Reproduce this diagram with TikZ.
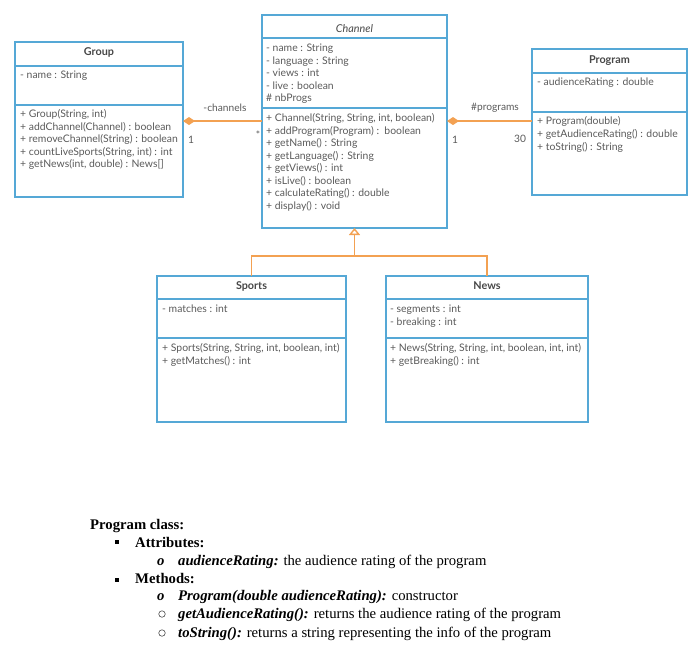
\documentclass[tikz,border=0pt]{standalone}
\usepackage{fontspec}
\setmainfont{Lato}
\newfontfamily\serifdoc{Liberation Serif}
\usetikzlibrary{arrows.meta}
\definecolor{umlblue}{HTML}{55A8D6}
\definecolor{umlorange}{HTML}{F3A152}
\definecolor{umltext}{HTML}{5A5A5A}
\definecolor{umltitle}{HTML}{474747}
\begin{document}
\begin{tikzpicture}[x=1pt,y=-1pt,
 cls/.style={draw=umlblue, line width=1.3pt, inner sep=0pt, outer sep=0pt, anchor=north west},
 sep/.style={draw=umlblue, line width=1.2pt},
 mem/.style={anchor=base west, inner sep=0pt, font=\fontsize{10.4}{12}\selectfont, text=umltext},
 ttl/.style={anchor=base, inner sep=0pt, font=\fontsize{10.8}{12}\selectfont\bfseries, text=umltitle},
 lbl/.style={inner sep=0pt, font=\fontsize{10.2}{12}\selectfont, text=umltext},
 assoc/.style={draw=umlorange, line width=1.4pt, {Diamond[width=8pt,length=12pt,fill=umlorange]}-},
 gen/.style={draw=umlorange, line width=1.4pt},
 doc/.style={anchor=base west, inner sep=0pt, font=\serifdoc\fontsize{14.7}{17}\selectfont},
 sqb/.style={fill=black, inner sep=0pt, minimum size=4.5pt},
 circb/.style={circle, draw=black!70, line width=0.6pt, inner sep=0pt, minimum size=6.5pt}]
\useasboundingbox (0,0) rectangle (700,657);

% ---------- Group ----------
\node[cls, minimum width=168pt, minimum height=155pt] (group) at (15,42) {};
\draw[sep] (group.west |- 0,66) -- (group.east |- 0,66);
\draw[sep] (group.west |- 0,105) -- (group.east |- 0,105);
\node[ttl] (gt) at (99,55.5) {Group};
\node[mem] (ga1) at (20,78.5) {- name : String};
\foreach \t [count=\i] in {{+ Group(String, int)},{+ addChannel(Channel) : boolean},{+ removeChannel(String) : boolean},{+ countLiveSports(String, int) : int},{+ getNews(int, double) : News[]}}
  \node[mem] (gm\i) at (20,{117.5+12.5*(\i-1)}) {\t};

% ---------- Channel ----------
\node[cls, minimum width=185pt, minimum height=213pt] (channel) at (262,15) {};
\draw[sep] (channel.west |- 0,38) -- (channel.east |- 0,38);
\draw[sep] (channel.west |- 0,108) -- (channel.east |- 0,108);
\node[ttl, font=\fontsize{10.8}{12}\selectfont\itshape] (ct) at (354.5,32.5) {Channel};
\foreach \t [count=\i] in {{- name : String},{- language : String},{- views : int},{- live : boolean},{\# nbProgs}}
  \node[mem] (ca\i) at (266,{51.5+12.6*(\i-1)}) {\t};
\foreach \t [count=\i] in {{+ Channel(String, String, int, boolean)},{+ addProgram(Program) :\ \ boolean},{+ getName() : String},{+ getLanguage() : String},{+ getViews() : int},{+ isLive() : boolean},{+ calculateRating() : double},{+ display() : void}}
  \node[mem] (cm\i) at (266,{121.5+12.57*(\i-1)}) {\t};

% ---------- Program ----------
\node[cls, minimum width=155pt, minimum height=146pt] (program) at (532,49) {};
\draw[sep] (program.west |- 0,73) -- (program.east |- 0,73);
\draw[sep] (program.west |- 0,112) -- (program.east |- 0,112);
\node[ttl] (pt) at (609.5,63.5) {Program};
\node[mem] (pa1) at (537,85.5) {- audienceRating : double};
\foreach \t [count=\i] in {{+ Program(double)},{+ getAudienceRating() : double},{+ toString() : String}}
  \node[mem] (pm\i) at (537,{124.5+13*(\i-1)}) {\t};

% ---------- Sports ----------
\node[cls, minimum width=189pt, minimum height=146pt] (sports) at (157,276) {};
\draw[sep] (sports.west |- 0,299) -- (sports.east |- 0,299);
\draw[sep] (sports.west |- 0,338) -- (sports.east |- 0,338);
\node[ttl] (st) at (251.5,289.5) {Sports};
\node[mem] (sa1) at (162,312.5) {- matches : int};
\foreach \t [count=\i] in {{+ Sports(String, String, int, boolean, int)},{+ getMatches() : int}}
  \node[mem] (sm\i) at (162,{351.5+13*(\i-1)}) {\t};

% ---------- News ----------
\node[cls, minimum width=202pt, minimum height=146pt] (news) at (386,276) {};
\draw[sep] (news.west |- 0,299) -- (news.east |- 0,299);
\draw[sep] (news.west |- 0,338) -- (news.east |- 0,338);
\node[ttl] (nt) at (487,289.5) {News};
\foreach \t [count=\i] in {{- segments : int},{- breaking : int}}
  \node[mem] (na\i) at (390,{312.5+13*(\i-1)}) {\t};
\foreach \t [count=\i] in {{+ News(String, String, int, boolean, int, int)},{+ getBreaking() : int}}
  \node[mem] (nm\i) at (390,{351.5+13*(\i-1)}) {\t};

% ---------- Associations ----------
\draw[assoc] (group.east |- 0,121) -- (channel.west |- 0,121);
\node[lbl] (l1) at (225,108) {-channels};
\node[lbl] (l2) at (191,140) {1};
\node[lbl] (l3) at (258,135) {*};
\draw[assoc] (channel.east |- 0,121) -- (program.west |- 0,121);
\node[lbl] (l4) at (495,108) {\#programs};
\node[lbl] (l5) at (455,140) {1};
\node[lbl] (l6) at (520,139) {30};

% ---------- Generalization ----------
\coordinate (junction) at (354.5,256);
\draw[gen] (sports.north) |- (junction) -| (news.north);
\draw[gen, -{Triangle[open, width=11pt, length=7pt, fill=white]}] (junction) -- (channel.south);

% ---------- Description ----------
\node[doc] (d1) at (90,529) {\bfseries Program class:};
\node[sqb] (b1) at (117,542) {};
\node[doc] (d2) at (135,547) {\bfseries Attributes:};
\node[doc] (o1) at (157,565) {\bfseries\itshape o};
\node[doc] (d3) at (178,565) {\textbf{\textit{audienceRating:}} the audience rating of the program};
\node[sqb] (b2) at (117,580) {};
\node[doc] (d4) at (135,583) {\bfseries Methods:};
\node[doc] (o2) at (157,600) {\bfseries\itshape o};
\node[doc] (d5) at (178,600) {\textbf{\textit{Program(double audienceRating):}} constructor};
\node[circb] (o3) at (162,614) {};
\node[doc] (d6) at (178,618) {\textbf{\textit{getAudienceRating():}} returns the audience rating of the program};
\node[circb] (o4) at (162,633) {};
\node[doc] (d7) at (178,637) {\textbf{\textit{toString():}} returns a string representing the info of the program};
\end{tikzpicture}
\end{document}
